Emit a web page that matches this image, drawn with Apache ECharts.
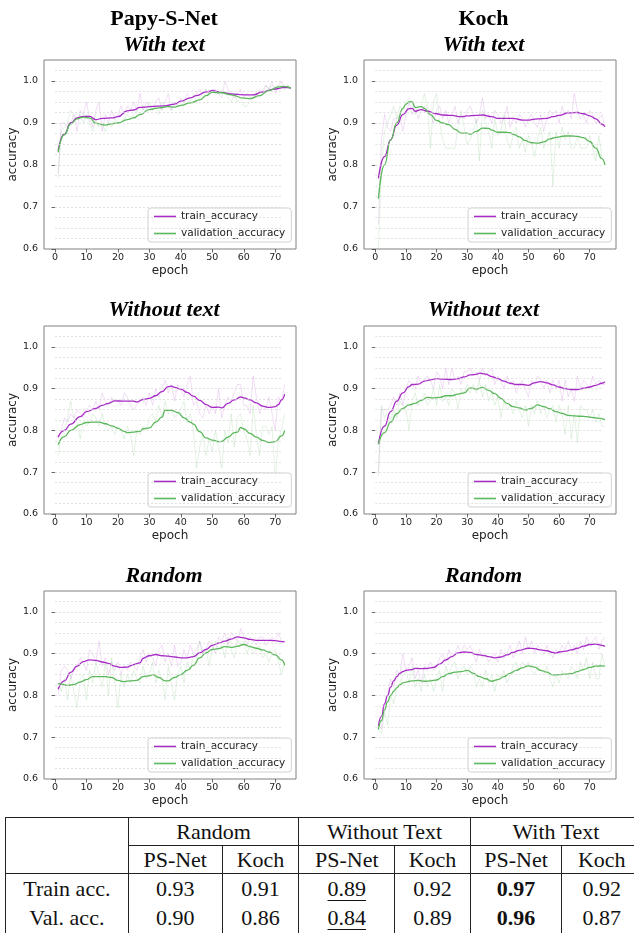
<!DOCTYPE html>
<html><head><meta charset="utf-8">
<script src="https://cdn.jsdelivr.net/npm/echarts@6.0.0/dist/echarts.min.js"></script>
<style>
html,body{margin:0;padding:0;background:#fff;width:634px;height:934px;overflow:hidden;position:relative;}
#chart{position:absolute;left:0;top:0;width:634px;height:812px;}
#tbl{position:absolute;left:5px;top:817px;width:636.3px;border-collapse:collapse;table-layout:fixed;font-family:"Liberation Serif",serif;font-size:22px;color:#111;}
#tbl td{padding:0;text-align:center;vertical-align:middle;white-space:nowrap;overflow:visible;border:0 solid #222;}
</style></head>
<body>
<div id="chart"></div>
<table id="tbl"></table>
<script>
// ---------- tick labels ----------
const epochTicks = [0,10,20,30,40,50,60,70];
const accTicks = [0.6,0.7,0.8,0.9,1.0];
const gridLevels = [0.625,0.65,0.675,0.7,0.725,0.75,0.775,0.8,0.825,0.85,0.875,0.9,0.925,0.95,0.975,1.0,1.025];

// ---------- Papy-S-Net, With text (epochs 1..75) ----------
const psWithTrain = [0.78,0.90,0.90,0.89,0.90,0.92,0.88,0.93,0.92,0.95,
0.91,0.89,0.93,0.95,0.88,0.92,0.90,0.93,0.91,0.92,
0.94,0.92,0.94,0.93,0.95,0.93,0.97,0.93,0.95,0.94,
0.93,0.95,0.96,0.93,0.95,0.97,0.93,0.95,0.94,0.96,
0.95,0.97,0.96,0.96,0.97,0.98,0.97,0.98,0.97,0.98,
0.98,0.97,0.96,1.00,0.98,0.97,0.96,0.97,0.98,0.96,
0.97,0.96,0.97,0.96,0.98,0.97,0.99,0.98,1.00,0.97,
0.99,1.00,0.98,0.99,0.98];
const psWithVal = [0.77,0.88,0.89,0.90,0.93,0.92,0.91,0.92,0.90,0.92,
0.90,0.88,0.91,0.89,0.90,0.88,0.90,0.89,0.91,0.90,
0.90,0.91,0.92,0.91,0.92,0.93,0.92,0.94,0.93,0.95,
0.93,0.94,0.92,0.95,0.94,0.94,0.93,0.95,0.94,0.94,
0.95,0.96,0.95,0.97,0.95,0.96,0.97,0.98,0.97,0.98,
0.97,0.97,0.98,0.97,0.96,0.95,0.97,0.95,0.96,0.94,
0.94,0.95,0.96,0.97,0.96,0.98,0.99,0.98,0.99,0.98,
0.99,0.99,0.98,0.99,0.98];
const psWithTrainSmooth = [[1,.834],[3,.874],[5,.900],[7,.912],[9,.916],[11,.916],[13,.908],[15,.911],[18,.912],[20,.915],[23,.929],[25,.931],[27,.937],[30,.939],[35,.941],[38,.945],[40,.952],[43,.96],[45,.965],[48,.974],[50,.977],[53,.973],[56,.969],[60,.967],[63,.967],[66,.974],[70,.981],[73,.985],[75,.983]];
const psWithValSmooth = [[1,.83],[3,.872],[5,.898],[7,.91],[9,.914],[11,.912],[13,.899],[16,.895],[18,.898],[20,.900],[23,.908],[25,.912],[27,.92],[30,.932],[33,.936],[36,.939],[38,.938],[40,.942],[43,.948],[46,.955],[48,.965],[50,.973],[53,.972],[56,.967],[60,.959],[62,.958],[65,.965],[68,.977],[71,.986],[73,.987],[75,.983]];

// ---------- Koch, With text (epochs 1..75) ----------
const kochWithTrain = [0.66,0.86,0.92,0.89,0.88,0.91,0.91,0.92,0.88,0.92,
0.95,0.92,0.94,0.91,0.93,0.94,0.93,0.92,0.90,0.93,
0.94,0.91,0.93,0.90,0.92,0.94,0.90,0.92,0.91,0.93,
0.94,0.92,0.90,0.92,0.96,0.91,0.92,0.90,0.93,0.92,
0.90,0.91,0.94,0.89,0.91,0.90,0.92,0.91,0.89,0.91,
0.92,0.90,0.89,0.92,0.88,0.91,0.93,0.92,0.93,0.90,
0.94,0.92,0.93,0.91,0.97,0.93,0.91,0.92,0.90,0.93,
0.92,0.90,0.91,0.92,0.89];
const kochWithVal = [0.60,0.80,0.88,0.90,0.92,0.94,0.91,0.94,0.93,0.95,
0.96,0.95,0.92,0.94,0.94,0.97,0.94,0.84,0.95,0.97,
0.90,0.86,0.84,0.84,0.84,0.84,0.89,0.93,0.89,0.85,
0.86,0.88,0.91,0.81,0.93,0.90,0.88,0.84,0.91,0.87,
0.88,0.92,0.86,0.84,0.87,0.89,0.84,0.86,0.83,0.87,
0.85,0.82,0.86,0.89,0.84,0.86,0.88,0.75,0.88,0.84,
0.89,0.86,0.88,0.84,0.84,0.87,0.84,0.84,0.84,0.87,
0.84,0.81,0.87,0.82,0.80];
const kochWithTrainSmooth = [[1,.768],[3,.82],[5,.86],[7,.895],[9,.92],[11,.934],[12,.935],[13,.928],[15,.932],[17,.928],[20,.922],[22,.919],[25,.918],[28,.915],[30,.917],[33,.918],[35,.919],[38,.915],[40,.911],[45,.911],[48,.907],[50,.907],[53,.91],[56,.911],[58,.915],[60,.918],[63,.924],[66,.925],[68,.922],[70,.917],[72,.91],[74,.897],[75,.891]];
const kochWithValSmooth = [[1,.72],[3,.80],[5,.86],[7,.90],[9,.935],[10,.945],[11,.95],[12,.951],[13,.937],[15,.939],[16,.935],[18,.92],[20,.906],[22,.90],[24,.896],[26,.885],[28,.876],[30,.876],[31,.873],[33,.88],[35,.888],[37,.887],[38,.883],[40,.878],[42,.878],[44,.877],[45,.873],[47,.867],[49,.858],[51,.853],[53,.852],[55,.855],[57,.862],[59,.866],[62,.869],[64,.869],[66,.868],[68,.865],[70,.856],[72,.84],[74,.815],[75,.80]];

// ---------- Papy-S-Net, Without text (epochs 1..73) ----------
const psWithoutTrain = [0.78,0.80,0.83,0.82,0.84,0.83,0.85,0.84,0.83,0.85,
0.86,0.85,0.87,0.85,0.89,0.87,0.86,0.88,0.87,0.87,
0.86,0.89,0.88,0.86,0.85,0.86,0.87,0.88,0.86,0.89,
0.86,0.90,0.88,0.90,0.92,0.89,0.91,0.87,0.91,0.90,
0.88,0.91,0.93,0.86,0.87,0.84,0.83,0.86,0.84,0.86,
0.84,0.90,0.83,0.86,0.88,0.87,0.89,0.91,0.91,0.86,
0.86,0.84,0.93,0.88,0.84,0.86,0.85,0.88,0.84,0.80,
0.88,0.87,0.91];
const psWithoutVal = [0.74,0.79,0.80,0.83,0.87,0.83,0.82,0.78,0.82,0.81,
0.82,0.84,0.83,0.81,0.84,0.81,0.80,0.81,0.79,0.81,
0.80,0.78,0.81,0.79,0.74,0.80,0.79,0.81,0.80,0.83,
0.84,0.82,0.86,0.83,0.87,0.84,0.85,0.83,0.84,0.85,
0.87,0.82,0.84,0.80,0.71,0.76,0.79,0.74,0.78,0.75,
0.80,0.76,0.71,0.80,0.77,0.84,0.76,0.83,0.84,0.80,
0.78,0.74,0.86,0.79,0.74,0.81,0.81,0.79,0.81,0.68,
0.78,0.80,0.84];
const psWithoutTrainSmooth = [[1,.784],[3,.80],[5,.815],[8,.833],[10,.845],[13,.853],[15,.86],[17,.865],[19,.871],[22,.87],[25,.87],[26,.868],[28,.874],[30,.877],[32,.883],[34,.893],[36,.905],[37,.906],[38,.903],[40,.899],[42,.891],[44,.882],[46,.872],[48,.862],[50,.855],[52,.856],[53,.854],[55,.865],[57,.873],[59,.88],[60,.878],[62,.873],[64,.866],[66,.858],[68,.855],[70,.857],[71,.862],[72,.873],[73,.887]];
const psWithoutValSmooth = [[1,.766],[3,.785],[5,.80],[8,.814],[10,.819],[12,.82],[14,.82],[16,.816],[18,.811],[20,.805],[22,.798],[23,.795],[25,.796],[27,.798],[28,.804],[30,.806],[32,.82],[34,.832],[35,.848],[37,.848],[39,.843],[41,.83],[43,.82],[44,.815],[46,.797],[48,.782],[50,.777],[52,.773],[53,.774],[55,.784],[57,.795],[58,.796],[59,.807],[60,.804],[62,.793],[64,.784],[66,.776],[68,.771],[70,.773],[72,.787],[73,.80]];

// ---------- Koch, Without text (epochs 1..75) ----------
const kochWithoutTrain = [0.70,0.85,0.85,0.85,0.86,0.88,0.86,0.89,0.86,0.90,
0.92,0.91,0.90,0.93,0.91,0.92,0.93,0.92,0.90,0.94,
0.93,0.90,0.95,0.91,0.95,0.92,0.93,0.91,0.94,0.94,
0.95,0.93,0.94,0.92,0.95,0.93,0.94,0.95,0.91,0.93,
0.92,0.90,0.93,0.91,0.92,0.89,0.91,0.92,0.90,0.88,
0.92,0.91,0.93,0.92,0.90,0.92,0.89,0.92,0.90,0.92,
0.87,0.92,0.88,0.90,0.87,0.93,0.90,0.92,0.91,0.90,
0.93,0.91,0.92,0.91,0.91];
const kochWithoutVal = [0.69,0.86,0.83,0.84,0.82,0.85,0.83,0.87,0.86,0.85,
0.80,0.87,0.89,0.86,0.87,0.89,0.86,0.87,0.90,0.86,
0.91,0.87,0.88,0.86,0.90,0.89,0.85,0.90,0.89,0.91,
0.89,0.91,0.89,0.92,0.88,0.91,0.87,0.89,0.86,0.88,
0.83,0.87,0.85,0.86,0.84,0.87,0.85,0.83,0.86,0.81,
0.86,0.84,0.87,0.84,0.86,0.83,0.85,0.86,0.82,0.86,
0.84,0.79,0.86,0.78,0.84,0.77,0.86,0.85,0.85,0.83,
0.85,0.82,0.84,0.81,0.81];
const kochWithoutTrainSmooth = [[1,.767],[3,.81],[5,.845],[7,.87],[9,.89],[11,.905],[12,.91],[14,.911],[16,.918],[18,.921],[20,.924],[22,.923],[25,.922],[27,.924],[29,.928],[31,.933],[33,.934],[34,.937],[36,.935],[38,.929],[40,.924],[42,.918],[44,.913],[46,.91],[48,.91],[50,.908],[52,.914],[54,.917],[56,.914],[58,.909],[60,.904],[62,.90],[64,.898],[66,.898],[68,.901],[70,.904],[72,.908],[74,.913],[75,.917]];
const kochWithoutValSmooth = [[1,.767],[3,.795],[5,.82],[7,.84],[9,.853],[11,.861],[13,.865],[15,.872],[17,.879],[19,.878],[21,.879],[23,.883],[25,.883],[27,.887],[29,.89],[31,.902],[33,.899],[35,.903],[37,.896],[39,.888],[41,.877],[43,.865],[45,.857],[47,.854],[49,.849],[51,.853],[53,.861],[55,.857],[57,.852],[59,.845],[61,.841],[63,.836],[65,.835],[67,.834],[69,.833],[71,.831],[73,.829],[75,.826]];

// ---------- Papy-S-Net, Random (epochs 1..73) ----------
const psRandomTrain = [0.80,0.86,0.87,0.86,0.84,0.86,0.87,0.89,0.88,0.86,
0.91,0.90,0.88,0.93,0.87,0.89,0.85,0.88,0.86,0.88,
0.85,0.87,0.86,0.88,0.87,0.86,0.89,0.91,0.88,0.90,
0.89,0.87,0.91,0.92,0.88,0.90,0.87,0.92,0.87,0.88,
0.91,0.89,0.92,0.90,0.91,0.93,0.90,0.91,0.93,0.92,
0.90,0.94,0.93,0.95,0.92,0.95,0.94,0.93,0.96,0.94,
0.92,0.94,0.93,0.92,0.94,0.94,0.92,0.93,0.94,0.93,
0.95,0.93,0.93];
const psRandomVal = [0.83,0.81,0.84,0.79,0.85,0.81,0.77,0.84,0.85,0.79,
0.86,0.83,0.88,0.85,0.82,0.88,0.80,0.89,0.83,0.77,
0.85,0.82,0.85,0.83,0.86,0.84,0.83,0.87,0.84,0.85,
0.88,0.83,0.86,0.84,0.79,0.87,0.83,0.79,0.85,0.87,
0.83,0.88,0.86,0.90,0.89,0.93,0.90,0.91,0.87,0.91,
0.93,0.91,0.92,0.89,0.94,0.91,0.89,0.93,0.92,0.93,
0.90,0.92,0.90,0.91,0.92,0.89,0.90,0.88,0.90,0.91,
0.88,0.85,0.88];
const psRandomTrainSmooth = [[1,.815],[3,.835],[5,.855],[7,.87],[9,.881],[11,.885],[13,.884],[15,.88],[17,.877],[19,.87],[21,.867],[23,.868],[25,.874],[27,.878],[28,.889],[30,.895],[32,.898],[34,.895],[36,.894],[38,.892],[40,.89],[42,.89],[44,.893],[46,.902],[48,.91],[50,.92],[52,.925],[54,.93],[56,.935],[58,.94],[60,.938],[62,.934],[64,.932],[66,.932],[68,.932],[70,.931],[72,.929],[73,.928]];
const psRandomValSmooth = [[1,.828],[2,.827],[4,.824],[6,.826],[8,.832],[10,.838],[12,.845],[14,.845],[16,.845],[18,.843],[20,.836],[22,.833],[24,.835],[26,.836],[28,.845],[30,.847],[31,.85],[33,.843],[35,.835],[36,.835],[38,.843],[40,.85],[42,.86],[44,.872],[46,.89],[48,.902],[50,.91],[52,.912],[54,.917],[56,.915],[58,.918],[60,.922],[62,.917],[64,.913],[66,.909],[68,.904],[70,.897],[72,.885],[73,.872]];

// ---------- Koch, Random (epochs 1..75) ----------
const kochRandomTrain = [0.73,0.72,0.78,0.80,0.84,0.82,0.86,0.85,0.90,0.86,
0.87,0.89,0.84,0.86,0.83,0.87,0.86,0.88,0.86,0.87,
0.89,0.90,0.88,0.91,0.89,0.90,0.92,0.90,0.92,0.91,
0.92,0.90,0.88,0.91,0.89,0.90,0.88,0.89,0.90,0.88,
0.91,0.89,0.90,0.92,0.89,0.91,0.93,0.90,0.94,0.91,
0.93,0.90,0.92,0.91,0.90,0.92,0.90,0.89,0.91,0.90,
0.92,0.91,0.93,0.91,0.92,0.90,0.93,0.91,0.94,0.92,
0.93,0.94,0.91,0.93,0.94];
const kochRandomVal = [0.72,0.71,0.76,0.73,0.80,0.78,0.82,0.83,0.85,0.86,
0.83,0.87,0.82,0.84,0.81,0.85,0.82,0.84,0.81,0.84,
0.86,0.81,0.87,0.85,0.87,0.88,0.84,0.86,0.87,0.85,
0.87,0.86,0.82,0.84,0.82,0.86,0.83,0.85,0.81,0.85,
0.84,0.86,0.83,0.85,0.87,0.88,0.86,0.88,0.87,0.88,
0.86,0.85,0.87,0.86,0.85,0.87,0.84,0.82,0.85,0.83,
0.86,0.85,0.84,0.87,0.86,0.84,0.88,0.86,0.89,0.84,
0.88,0.84,0.84,0.90,0.87];
const kochRandomTrainSmooth = [[1,.727],[2,.75],[3,.78],[4,.80],[5,.82],[6,.835],[7,.845],[8,.853],[9,.857],[10,.86],[12,.862],[13,.865],[15,.864],[17,.865],[19,.867],[21,.875],[23,.885],[25,.893],[27,.902],[29,.904],[31,.903],[33,.898],[35,.896],[37,.893],[39,.89],[41,.892],[43,.897],[45,.903],[47,.908],[50,.913],[52,.912],[54,.909],[56,.907],[58,.903],[59,.901],[60,.904],[62,.906],[64,.909],[66,.913],[68,.918],[70,.922],[72,.923],[74,.92],[75,.917]];
const kochRandomValSmooth = [[1,.718],[2,.74],[3,.765],[4,.785],[5,.80],[6,.81],[7,.818],[8,.825],[9,.83],[10,.832],[12,.835],[14,.836],[16,.834],[18,.835],[20,.837],[22,.845],[24,.852],[26,.856],[28,.857],[30,.86],[32,.853],[34,.845],[36,.84],[38,.834],[40,.838],[42,.845],[44,.853],[46,.86],[48,.866],[50,.871],[52,.868],[54,.86],[56,.856],[58,.849],[60,.85],[62,.851],[64,.852],[66,.857],[68,.862],[70,.867],[72,.87],[74,.871],[75,.87]];

// ---------- table values ----------
const tableGroups = ['Random','Without Text','With Text'];
const tableModels = ['PS-Net','Koch'];
const tableRowLabels = ['Train acc.','Val. acc.'];
const tableTrain = ['0.93','0.91','0.89','0.92','0.97','0.92'];
const tableVal = ['0.90','0.86','0.84','0.89','0.96','0.87'];
const tableBoldCol = 4;
const tableUnderlineCol = 2;

const modelTitles = ['Papy-S-Net','Koch'];
const rowTitles = ['With text','Without text','Random'];

// ---------- layout ----------
const cols = [
  {left:44, width:252, xmin:-3.5, xmax:76.6, cx:164, legendLeft:148, gridEnd:72},
  {left:364, width:252, xmin:-3.7, xmax:78.6, cx:483.5, legendLeft:468, gridEnd:74}
];
const rows = [
  {top:60, height:189, titleY:45, legendTop:208},
  {top:326, height:188, titleY:310, legendTop:473},
  {top:591, height:188, titleY:576, legendTop:738}
];
const panels = [
  {r:0,c:0,tr:psWithTrain,va:psWithVal,trS:psWithTrainSmooth,vaS:psWithValSmooth},
  {r:0,c:1,tr:kochWithTrain,va:kochWithVal,trS:kochWithTrainSmooth,vaS:kochWithValSmooth},
  {r:1,c:0,tr:psWithoutTrain,va:psWithoutVal,trS:psWithoutTrainSmooth,vaS:psWithoutValSmooth},
  {r:1,c:1,tr:kochWithoutTrain,va:kochWithoutVal,trS:kochWithoutTrainSmooth,vaS:kochWithoutValSmooth},
  {r:2,c:0,tr:psRandomTrain,va:psRandomVal,trS:psRandomTrainSmooth,vaS:psRandomValSmooth},
  {r:2,c:1,tr:kochRandomTrain,va:kochRandomVal,trS:kochRandomTrainSmooth,vaS:kochRandomValSmooth}
];

const PURPLE = '#a72cc6';
const GREEN = '#5cb85c';
const PURPLE_RAW = 'rgba(175,70,200,0.18)';
const GREEN_RAW = 'rgba(100,185,100,0.18)';
const SANS = 'DejaVu Sans';

const grid = [], xAxis = [], yAxis = [], series = [], legend = [], graphic = [];
panels.forEach((p, i) => {
  const C = cols[p.c], R = rows[p.r];
  grid.push({left:C.left, top:R.top, width:C.width, height:R.height, show:true,
    borderColor:'#808080', borderWidth:1, backgroundColor:'transparent'});
  xAxis.push({gridIndex:i, type:'value', min:C.xmin, max:C.xmax,
    axisLine:{show:false},
    axisTick:{show:true, length:3.5, lineStyle:{color:'#444', width:0.8}, customValues:epochTicks},
    axisLabel:{customValues:epochTicks, fontSize:9.5, fontFamily:SANS, color:'#222', margin:4},
    splitLine:{show:false},
    name:'epoch', nameLocation:'middle', nameGap:16,
    nameTextStyle:{fontSize:12, fontFamily:SANS, color:'#222'}});
  yAxis.push({gridIndex:i, type:'value', min:0.6, max:1.05,
    axisLine:{show:false},
    axisTick:{show:true, length:3.5, lineStyle:{color:'#444', width:0.8}, customValues:accTicks},
    axisLabel:{customValues:accTicks, fontSize:9.5, fontFamily:SANS, color:'#222', margin:6,
      formatter: v => Number(v).toFixed(1)},
    splitLine:{show:false},
    name:'accuracy', nameLocation:'middle', nameGap:19,
    nameTextStyle:{fontSize:12, fontFamily:SANS, color:'#222'}});
  series.push({type:'line', name:'raw_train_'+i, xAxisIndex:i, yAxisIndex:i, silent:true,
    symbol:'none', data:p.tr.map((v,k)=>[k+1,v]),
    lineStyle:{color:PURPLE_RAW, width:1}, itemStyle:{color:PURPLE_RAW}, z:2,
    markLine:{silent:true, symbol:['none','none'], label:{show:false}, animation:false,
      lineStyle:{color:'#d4d4d4', width:0.7, type:[2,2]},
      data:gridLevels.map(v=>[{coord:[0,v]},{coord:[C.gridEnd,v]}])}});
  series.push({type:'line', name:'raw_val_'+i, xAxisIndex:i, yAxisIndex:i, silent:true,
    symbol:'none', data:p.va.map((v,k)=>[k+1,v]),
    lineStyle:{color:GREEN_RAW, width:1}, itemStyle:{color:GREEN_RAW}, z:2});
  series.push({type:'line', name:'train_accuracy', xAxisIndex:i, yAxisIndex:i,
    symbol:'none', smooth:0.5, smoothMonotone:'x', data:p.trS,
    lineStyle:{color:PURPLE, width:1.3}, itemStyle:{color:PURPLE}, z:4});
  series.push({type:'line', name:'validation_accuracy', xAxisIndex:i, yAxisIndex:i,
    symbol:'none', smooth:0.5, smoothMonotone:'x', data:p.vaS,
    lineStyle:{color:GREEN, width:1.3}, itemStyle:{color:GREEN}, z:4});
  legend.push({data:['train_accuracy','validation_accuracy'], orient:'vertical',
    left:C.legendLeft, top:R.legendTop, icon:'rect', itemWidth:22, itemHeight:1.6,
    itemGap:4, padding:[2,6,2,6], backgroundColor:'rgba(255,255,255,0.85)',
    borderColor:'#d2d2d2', borderWidth:1, borderRadius:3, selectedMode:false,
    textStyle:{fontSize:10.5, fontFamily:SANS, color:'#222', lineHeight:13}});
  graphic.push({type:'text', x:C.cx, y:R.titleY, silent:true,
    style:{text:rowTitles[p.r], align:'center', verticalAlign:'middle',
      fontFamily:'Liberation Serif', fontSize:22, fontWeight:'bold', fontStyle:'italic', fill:'#000'}});
});
modelTitles.forEach((t, c) => {
  graphic.push({type:'text', x:cols[c].cx, y:19, silent:true,
    style:{text:t, align:'center', verticalAlign:'middle',
      fontFamily:'Liberation Serif', fontSize:22, fontWeight:'bold', fill:'#000'}});
});

const chart = echarts.init(document.getElementById('chart'), null, {renderer:'canvas'});
chart.setOption({animation:false, backgroundColor:'#fff', grid, xAxis, yAxis, series, legend, graphic});

// ---------- table ----------
const colWidths = [122.7, 94, 76.6, 96, 75.4, 91.6, 80];
const B = '1px solid #222';
let html = '<colgroup>' + colWidths.map(w=>`<col style="width:${w}px">`).join('') + '</colgroup>';
html += `<tr style="height:28px"><td rowspan="2" style="border-top:${B};border-left:${B};border-right:${B}"></td>`;
tableGroups.forEach(g => { html += `<td colspan="2" style="border-top:${B};border-right:${B}">${g}</td>`; });
html += '</tr><tr style="height:28px">';
tableGroups.forEach(() => tableModels.forEach(m => { html += `<td style="border-top:${B};border-right:${B}">${m}</td>`; }));
html += '</tr>';
[tableTrain, tableVal].forEach((vals, ri) => {
  const top = ri === 0 ? `border-top:${B};` : '';
  html += `<tr style="height:29.5px"><td style="${top}border-left:${B};border-right:${B}">${tableRowLabels[ri]}</td>`;
  vals.forEach((v, ci) => {
    let s = v;
    if (ci === tableBoldCol) s = `<b>${v}</b>`;
    if (ci === tableUnderlineCol) s = `<span style="text-decoration:underline;text-underline-offset:4px;text-decoration-thickness:1px">${v}</span>`;
    html += `<td style="${top}border-right:${B}">${s}</td>`;
  });
  html += '</tr>';
});
document.getElementById('tbl').innerHTML = html;
</script>
</body></html>
